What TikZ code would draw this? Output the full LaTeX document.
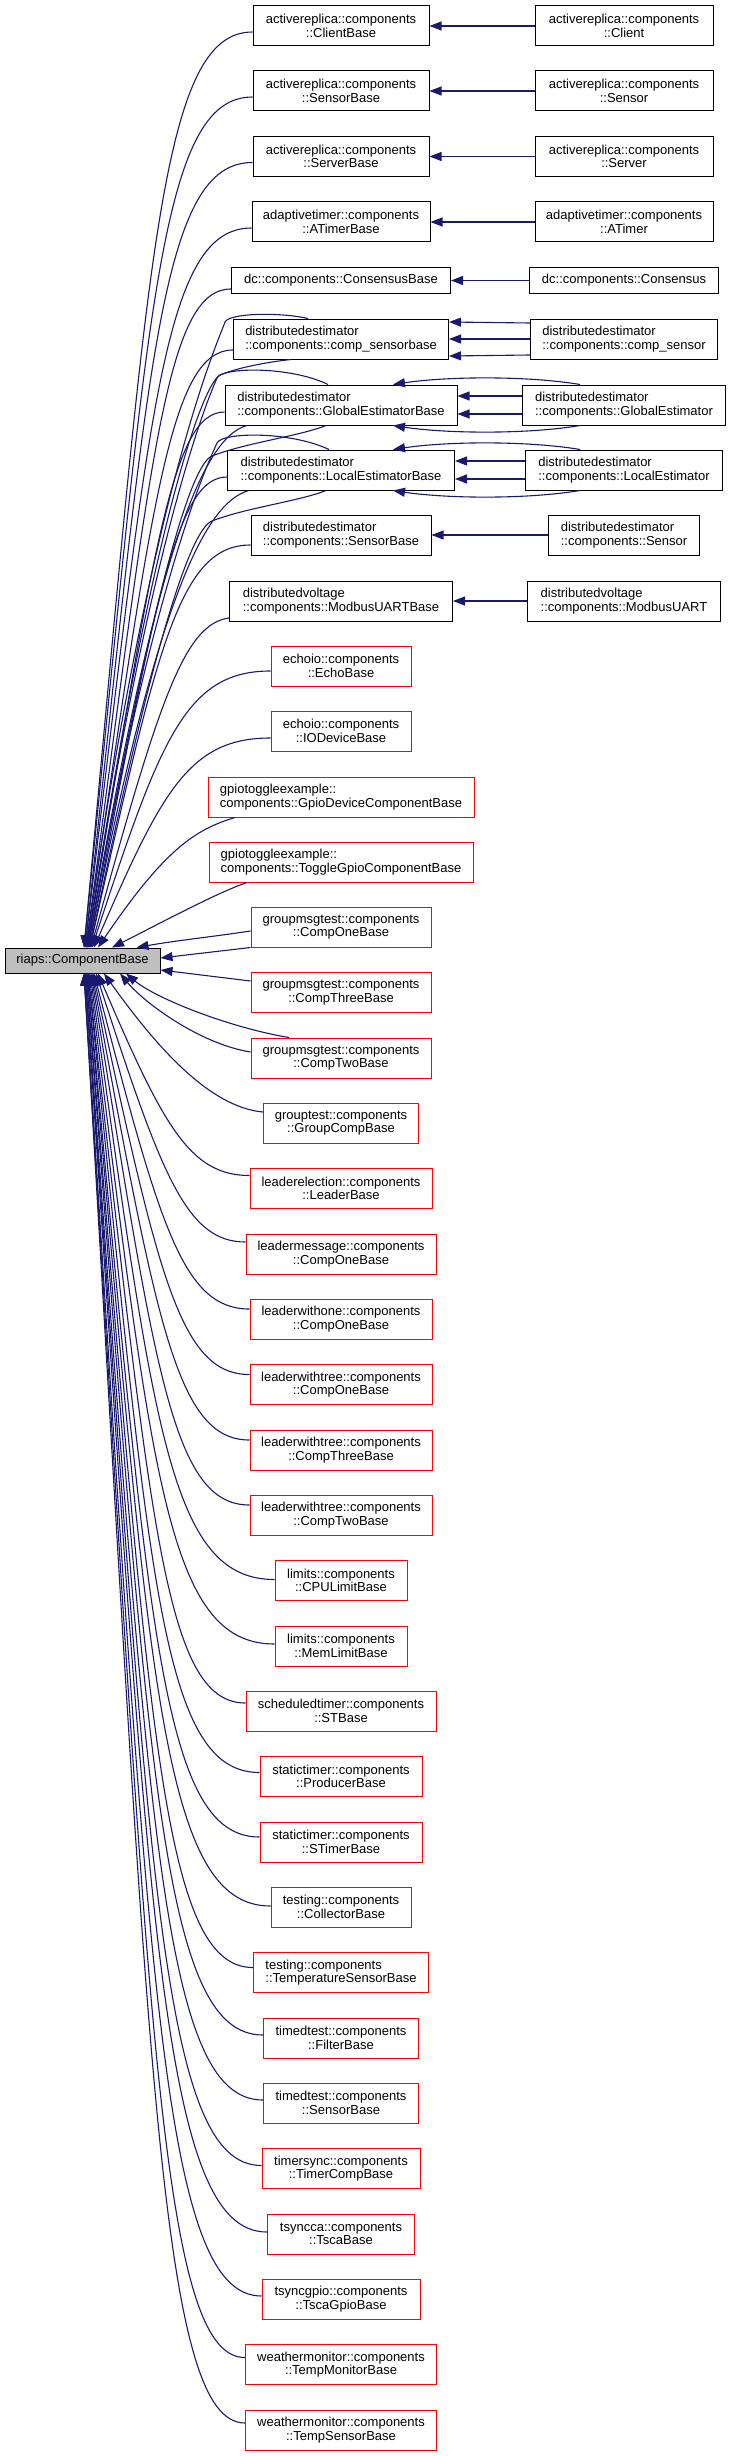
\documentclass[tikz,border=0pt]{standalone}
\usepackage{fontspec}
\setmainfont{Liberation Sans}
\usetikzlibrary{arrows.meta,calc}
\definecolor{edgeblue}{HTML}{191970}
\definecolor{boxred}{HTML}{FF0000}
\definecolor{rootgray}{HTML}{BFBFBF}
\tikzset{
 nbox/.style={draw=black, line width=1pt, fill=white, inner sep=0pt, minimum height=40pt, align=center, font=\fontsize{13}{13.6}\selectfont},
 nboxl/.style={nbox, align=left},
 rbox/.style={nbox, draw=boxred},
 rboxl/.style={nboxl, draw=boxred},
 inh/.style={draw=edgeblue, line width=1.1pt, {Triangle[length=12pt,width=9pt]}-},
}
\begin{document}
\begin{tikzpicture}[x=1pt,y=-1pt]
\useasboundingbox (0,0) rectangle (731,2456);
% root
\node[nbox, fill=rootgray, minimum width=155pt, minimum height=25pt] (root) at (82.5,960.5) {riaps::ComponentBase};
% middle column
\node[nbox, minimum width=176pt] (crb) at (341,26) {activereplica::components\\::ClientBase};
\node[nbox, minimum width=176pt] (srb) at (341,91) {activereplica::components\\::SensorBase};
\node[nbox, minimum width=176pt] (svb) at (341,156.5) {activereplica::components\\::ServerBase};
\node[nbox, minimum width=178pt] (atb) at (341,222) {adaptivetimer::components\\::ATimerBase};
\node[nbox, minimum width=219pt, minimum height=25pt] (csb) at (341,280.5) {dc::components::ConsensusBase};
\node[nboxl, minimum width=215pt] (dcs) at (341,339) {distributedestimator\\::components::comp\_sensorbase};
\node[nboxl, minimum width=232pt] (geb) at (341,405) {distributedestimator\\::components::GlobalEstimatorBase};
\node[nboxl, minimum width=227pt] (leb) at (341,470) {distributedestimator\\::components::LocalEstimatorBase};
\node[nboxl, minimum width=180pt] (deb) at (341,535) {distributedestimator\\::components::SensorBase};
\node[nboxl, minimum width=223pt] (mub) at (341,601) {distributedvoltage\\::components::ModbusUARTBase};
\node[rbox, minimum width=140pt] (ecb) at (341,666) {echoio::components\\::EchoBase};
\node[rbox, minimum width=140pt] (iob) at (341,731) {echoio::components\\::IODeviceBase};
\node[rboxl, minimum width=266pt] (gdb) at (341,797) {gpiotoggleexample::\\components::GpioDeviceComponentBase};
\node[rboxl, minimum width=264pt] (tgb) at (341,862) {gpiotoggleexample::\\components::ToggleGpioComponentBase};
\node[rbox, minimum width=180pt] (g1) at (341,927) {groupmsgtest::components\\::CompOneBase};
\node[rbox, minimum width=180pt] (g3) at (341,992.5) {groupmsgtest::components\\::CompThreeBase};
\node[rbox, minimum width=180pt] (g2) at (341,1058) {groupmsgtest::components\\::CompTwoBase};
\node[rbox, minimum width=155pt] (gcb) at (341,1123) {grouptest::components\\::GroupCompBase};
\node[rbox, minimum width=182pt] (ldb) at (341,1188.5) {leaderelection::components\\::LeaderBase};
\node[rbox, minimum width=190pt] (lm1) at (341,1254) {leadermessage::components\\::CompOneBase};
\node[rbox, minimum width=182pt] (lo1) at (341,1319) {leaderwithone::components\\::CompOneBase};
\node[rbox, minimum width=182pt] (lt1) at (341,1384.5) {leaderwithtree::components\\::CompOneBase};
\node[rbox, minimum width=182pt] (lt3) at (341,1450) {leaderwithtree::components\\::CompThreeBase};
\node[rbox, minimum width=182pt] (lt2) at (341,1515) {leaderwithtree::components\\::CompTwoBase};
\node[rbox, minimum width=132pt] (cpu) at (341,1580.5) {limits::components\\::CPULimitBase};
\node[rbox, minimum width=132pt] (mem) at (341,1646) {limits::components\\::MemLimitBase};
\node[rbox, minimum width=190pt] (stb) at (341,1711) {scheduledtimer::components\\::STBase};
\node[rbox, minimum width=162pt] (prb) at (341,1776.5) {statictimer::components\\::ProducerBase};
\node[rbox, minimum width=162pt] (stm) at (341,1842) {statictimer::components\\::STimerBase};
\node[rbox, minimum width=140pt] (clb) at (341,1907) {testing::components\\::CollectorBase};
\node[rboxl, minimum width=175pt] (tsb) at (341,1972.5) {testing::components\\::TemperatureSensorBase};
\node[rbox, minimum width=155pt] (flb) at (341,2038) {timedtest::components\\::FilterBase};
\node[rbox, minimum width=155pt] (tdsb) at (341,2103) {timedtest::components\\::SensorBase};
\node[rbox, minimum width=158pt] (tcb) at (341,2168.5) {timersync::components\\::TimerCompBase};
\node[rbox, minimum width=147pt] (tsc) at (341,2234) {tsyncca::components\\::TscaBase};
\node[rbox, minimum width=158pt] (tgp) at (341,2299) {tsyncgpio::components\\::TscaGpioBase};
\node[rbox, minimum width=191pt] (tmb) at (341,2364.5) {weathermonitor::components\\::TempMonitorBase};
\node[rbox, minimum width=191pt] (tsnb) at (341,2430) {weathermonitor::components\\::TempSensorBase};
% right column
\node[nbox, minimum width=178pt] (cl) at (624,26) {activereplica::components\\::Client};
\node[nbox, minimum width=178pt] (se) at (624,91) {activereplica::components\\::Sensor};
\node[nbox, minimum width=178pt] (sv) at (624,156.5) {activereplica::components\\::Server};
\node[nbox, minimum width=178pt] (atm) at (624,222) {adaptivetimer::components\\::ATimer};
\node[nbox, minimum width=189pt, minimum height=25pt] (cs) at (624,280.5) {dc::components::Consensus};
\node[nboxl, minimum width=187pt] (dcc) at (624,339) {distributedestimator\\::components::comp\_sensor};
\node[nboxl, minimum width=203pt] (ge) at (624,405) {distributedestimator\\::components::GlobalEstimator};
\node[nboxl, minimum width=197pt] (le) at (624,470) {distributedestimator\\::components::LocalEstimator};
\node[nboxl, minimum width=151pt] (des) at (624,535) {distributedestimator\\::components::Sensor};
\node[nboxl, minimum width=193pt] (mu) at (624,601) {distributedvoltage\\::components::ModbusUART};
% right -> middle
\draw[inh] (crb.east) -- (cl.west);
\draw[inh] (srb.east) -- (se.west);
\draw[inh] (svb.east) -- (sv.west);
\draw[inh] (atb.east) -- (atm.west);
\draw[inh] (csb.east) -- (cs.west);
\draw[inh] ([yshift=17pt]dcs.east) -- ([yshift=16pt]dcc.west);
\draw[inh] (dcs.east) -- (dcc.west);
\draw[inh] ([yshift=-17pt]dcs.east) -- ([yshift=-16pt]dcc.west);
\draw[inh] ([xshift=52pt]geb.north) .. controls (450,376) and (530,376) .. ([xshift=-44pt]ge.north);
\draw[inh] ([yshift=9pt]geb.east) -- ([yshift=9pt]ge.west);
\draw[inh] ([yshift=-9pt]geb.east) -- ([yshift=-9pt]ge.west);
\draw[inh] ([xshift=52pt]geb.south) .. controls (450,434) and (530,434) .. ([xshift=-44pt]ge.south);
\draw[inh] ([xshift=52pt]leb.north) .. controls (450,441) and (530,441) .. ([xshift=-44pt]le.north);
\draw[inh] ([yshift=9pt]leb.east) -- ([yshift=9pt]le.west);
\draw[inh] ([yshift=-9pt]leb.east) -- ([yshift=-9pt]le.west);
\draw[inh] ([xshift=52pt]leb.south) .. controls (450,499) and (530,499) .. ([xshift=-44pt]le.south);
\draw[inh] (deb.east) -- (des.west);
\draw[inh] (mub.east) -- (mu.west);
% middle -> root (upper)
\draw[inh] ([xshift=1.5pt]root.north) .. controls +(64.5,-687) and +(-93,0) .. ([yshift=-6pt]crb.west);
\draw[inh] ([xshift=1.5pt]root.north) .. controls +(64.5,-638) and +(-93,0) .. ([yshift=-6pt]srb.west);
\draw[inh] ([xshift=2.5pt]root.north) .. controls +(64,-589) and +(-92,0) .. ([yshift=-6pt]svb.west);
\draw[inh] ([xshift=2.5pt]root.north) .. controls +(65,-540) and +(-88,0) .. ([yshift=-6pt]atb.west);
\draw[inh] ([xshift=3.5pt]root.north) .. controls +(65.5,-494) and +(-65,0) .. ([yshift=-8.5pt]csb.west);
\draw[inh] ([xshift=3.5pt]root.north) .. controls +(66.5,-448) and +(-63,0) .. ([yshift=-11pt]dcs.west);
\draw[inh] ([xshift=4.5pt]root.north) .. controls +(66,-430) and (203,384) .. (220,375) .. controls (240,367) and (268,362) .. ([xshift=-50pt]dcs.south);
\draw[inh] ([xshift=3.5pt]root.north) .. controls +(66.5,-470) and (221,335) .. (225,322) .. controls (229,313) and (280,312) .. ([xshift=-33pt]dcs.north);
\draw[inh] ([xshift=4.5pt]root.north) .. controls +(66.5,-427) and (211,392) .. (217,378) .. controls (222,367) and (290,366) .. ([xshift=-13pt]geb.north);
\draw[inh] ([xshift=4.5pt]root.north) .. controls +(67,-402) and +(-52,0) .. ([yshift=-7pt]geb.west);
\draw[inh] ([xshift=5.5pt]root.north) .. controls +(67,-392) and +(-45,12) .. ([xshift=-94pt]geb.south);
\draw[inh] ([xshift=5.5pt]root.north) .. controls +(67,-370) and (192,464) .. (212,456) .. controls (245,443) and (300,436) .. ([xshift=-15pt]geb.south);
\draw[inh] ([xshift=5.5pt]root.north) .. controls +(67,-379) and (211,457) .. (217,443) .. controls (222,432) and (290,431) .. ([xshift=-12pt]leb.north);
\draw[inh] ([xshift=6.5pt]root.north) .. controls +(67,-353) and +(-50,0) .. ([yshift=-7pt]leb.west);
\draw[inh] ([xshift=6.5pt]root.north) .. controls +(67,-343) and +(-45,12) .. ([xshift=-92pt]leb.south);
\draw[inh] ([xshift=7.5pt]root.north) .. controls +(66.5,-321) and (192,529) .. (212,521) .. controls (245,508) and (300,501) .. ([xshift=-15pt]leb.south);
\draw[inh] ([xshift=7.5pt]root.north) .. controls +(67.5,-302) and +(-71,0) .. ([yshift=-10pt]deb.west);
\draw[inh] ([xshift=8.5pt]root.north) .. controls +(68,-247) and +(-45,6) .. ([yshift=-17pt]mub.west);
\draw[inh] ([xshift=9.5pt]root.north) .. controls +(68,-208) and +(-85,0) .. ([yshift=-5pt]ecb.west);
\draw[inh] ([xshift=11.5pt]root.north) .. controls +(68,-157) and +(-81,0) .. ([yshift=-7pt]iob.west);
\draw[inh] ([xshift=15.5pt]root.north) .. controls +(66.5,-98) and +(-40,12) .. ([xshift=-106pt]gdb.south);
\draw[inh] ([xshift=29.5pt]root.north) .. controls +(40,-20) and +(-30,10) .. ([xshift=-94pt]tgb.south);
\draw[inh] ([xshift=54pt]root.north) .. controls +(40,-7) and +(-40,6) .. ([yshift=-4pt]g1.west);
\draw[inh] ([yshift=2.5pt]root.east) -- (g1.south west);
\draw[inh] ([yshift=-9.5pt]root.east) -- ([yshift=11.5pt]g3.west);
% middle -> root (lower)
\draw[inh] ([xshift=43.5pt]root.south) .. controls +(30,25) and +(-60,-10) .. ([xshift=-52pt]g2.north);
\draw[inh] ([xshift=37.5pt]root.south) .. controls +(25,30) and +(-50,-8) .. ([yshift=6pt]g2.west);
\draw[inh] ([xshift=21.5pt]root.south) .. controls +(50,70) and +(-55,-5) .. ([yshift=11pt]gcb.west);
\draw[inh] ([xshift=15.5pt]root.south) .. controls +(65,151.5) and +(-60,0) .. ([yshift=13pt]ldb.west);
\draw[inh] ([xshift=13.5pt]root.south) .. controls +(65.5,202) and +(-59,0) .. ([yshift=12pt]lm1.west);
\draw[inh] ([xshift=11.5pt]root.south) .. controls +(65.7,252) and +(-67,0) .. ([yshift=10pt]lo1.west);
\draw[inh] ([xshift=10.5pt]root.south) .. controls +(65,301) and +(-70,0) .. ([yshift=10pt]lt1.west);
\draw[inh] ([xshift=9.5pt]root.south) .. controls +(64.7,350) and +(-73,0) .. ([yshift=10pt]lt3.west);
\draw[inh] ([xshift=8.5pt]root.south) .. controls +(64.3,399) and +(-77,0) .. ([yshift=10pt]lt2.west);
\draw[inh] ([xshift=7.5pt]root.south) .. controls +(63.6,454) and +(-105,0) .. ([yshift=1pt]cpu.west);
\draw[inh] ([xshift=6.5pt]root.south) .. controls +(63,503) and +(-108,0) .. ([yshift=2pt]mem.west);
\draw[inh] ([xshift=5.5pt]root.south) .. controls +(63,547) and +(-82,0) .. ([yshift=8pt]stb.west);
\draw[inh] ([xshift=5.5pt]root.south) .. controls +(61.5,599) and +(-100,0) .. ([yshift=4pt]prb.west);
\draw[inh] ([xshift=4.5pt]root.south) .. controls +(62,648) and +(-100,0) .. ([yshift=5pt]stm.west);
\draw[inh] ([xshift=4.5pt]root.south) .. controls +(62,700) and +(-111,0) .. ([yshift=1pt]clb.west);
\draw[inh] ([xshift=3.5pt]root.south) .. controls +(63,745) and +(-93,0) .. ([yshift=5pt]tsb.west);
\draw[inh] ([xshift=3.5pt]root.south) .. controls +(63,796) and +(-103,0) .. ([yshift=3pt]flb.west);
\draw[inh] ([xshift=2.5pt]root.south) .. controls +(64,845) and +(-103,0) .. ([yshift=3pt]tdsb.west);
\draw[inh] ([xshift=2.5pt]root.south) .. controls +(64,894) and +(-102,0) .. ([yshift=3pt]tcb.west);
\draw[inh] ([xshift=2.5pt]root.south) .. controls +(64,944) and +(-107,0) .. ([yshift=2pt]tsc.west);
\draw[inh] ([xshift=1.5pt]root.south) .. controls +(64.5,992) and +(-102,0) .. ([yshift=3pt]tgp.west);
\draw[inh] ([xshift=1.5pt]root.south) .. controls +(64.5,1038) and +(-86,0) .. ([yshift=7pt]tmb.west);
\draw[inh] ([xshift=1.5pt]root.south) .. controls +(64.5,1087) and +(-86,0) .. ([yshift=7pt]tsnb.west);
\end{tikzpicture}
\end{document}
